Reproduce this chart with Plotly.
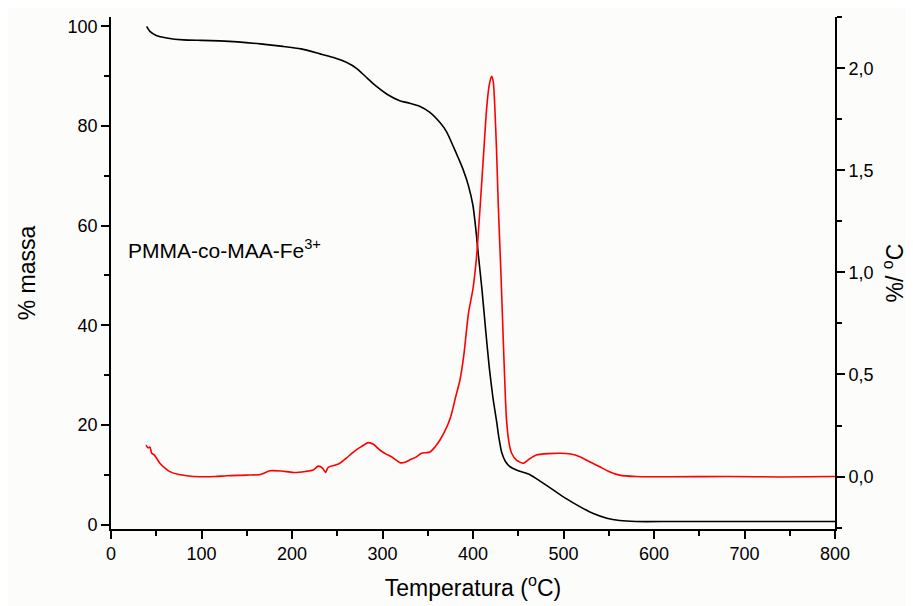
import plotly.graph_objects as go

# TGA curve (% massa) vs temperature
tga_T = [39.4, 43, 50, 61.5, 80, 100, 120, 140, 165, 190, 210, 231, 245, 260, 272, 282, 293, 305, 319, 330, 341, 352, 363.5, 371, 378, 384, 389, 395, 400, 403, 406, 410, 414, 418, 422, 426, 429, 432, 436, 441, 450, 463, 475, 489, 503, 518, 533, 548, 562, 580, 620, 700, 800]
tga_m = [100.0, 99.0, 98.2, 97.7, 97.3, 97.2, 97.1, 96.9, 96.5, 96.0, 95.5, 94.5, 93.8, 92.8, 91.5, 89.8, 88.0, 86.4, 85.1, 84.6, 84.0, 82.8, 80.7, 78.8, 76.0, 73.5, 71.3, 68.0, 64.0, 59.5, 54.0, 47.0, 39.0, 31.5, 25.5, 20.8, 17.0, 14.3, 12.6, 11.6, 10.8, 10.0, 8.6, 6.9, 5.2, 3.6, 2.2, 1.25, 0.8, 0.6, 0.6, 0.6, 0.6]

# DTG curve (%/°C) vs temperature
dtg_T = [38.7, 41, 43, 45, 48, 54, 60, 65, 75, 83.6, 98, 115, 128, 150, 165, 175.7, 188, 201.5, 215, 223.6, 229, 234, 237, 240, 247, 253, 260, 267.8, 276, 284.3, 290, 297, 304, 310, 319.3, 325, 330, 337, 343, 352.5, 358, 363.5, 368, 372.7, 376.5, 380, 385.6, 390, 395, 400, 404, 408, 412, 415, 418, 420.7, 422.5, 424, 426, 428, 431, 434, 437, 440, 442.7, 448, 455.6, 462, 470, 483, 496, 508, 518, 530, 540, 550, 562, 580, 620, 680, 740, 800]
dtg_d = [0.154, 0.14, 0.145, 0.114, 0.105, 0.065, 0.04, 0.024, 0.01, 0.004, -0.001, 0.0, 0.004, 0.007, 0.01, 0.028, 0.027, 0.02, 0.025, 0.032, 0.051, 0.04, 0.02, 0.045, 0.055, 0.065, 0.09, 0.12, 0.145, 0.166, 0.158, 0.13, 0.11, 0.097, 0.068, 0.07, 0.081, 0.095, 0.114, 0.12, 0.145, 0.179, 0.215, 0.26, 0.31, 0.375, 0.473, 0.6, 0.8, 0.92, 1.08, 1.33, 1.6, 1.8, 1.92, 1.96, 1.93, 1.82, 1.6, 1.32, 0.98, 0.6, 0.28, 0.16, 0.114, 0.08, 0.065, 0.085, 0.105, 0.112, 0.114, 0.11, 0.097, 0.07, 0.048, 0.025, 0.007, 0.0, -0.001, 0.0, -0.002, 0.0]

x_title = "Temperatura (<sup>o</sup>C)"
y1_title = "% massa"
y2_title = "%/ <sup>o</sup>C"
label = "PMMA-co-MAA-Fe<sup>3+</sup>"

font_family = "Liberation Sans, Arial, sans-serif"

fig = go.Figure()
fig.add_trace(go.Scatter(x=tga_T, y=tga_m, mode="lines", line=dict(color="black", width=1.6, shape="spline", smoothing=0.6), yaxis="y", showlegend=False))
fig.add_trace(go.Scatter(x=dtg_T, y=dtg_d, mode="lines", line=dict(color="#ff0000", width=1.6, shape="spline", smoothing=0.6), yaxis="y2", showlegend=False))

axis_common = dict(showline=True, linecolor="black", linewidth=1.6, ticks="outside", ticklen=8, tickwidth=1.6, tickcolor="black", showgrid=False, zeroline=False, tickfont=dict(size=18, color="black", family=font_family))
minor_common = dict(ticks="outside", ticklen=5, tickcolor="black", tickwidth=1.6)

fig.update_layout(
    width=905, height=598,
    margin=dict(l=103, r=78, t=9, b=77),
    paper_bgcolor="#fcfcfa", plot_bgcolor="#fcfcfa",
    separators=",.",
    font=dict(family=font_family, color="black"),
    xaxis=dict(range=[0, 800], dtick=100, tick0=0, title=dict(text=x_title, font=dict(size=23), standoff=16),
               minor=dict(dtick=50, **minor_common), **axis_common),
    yaxis=dict(range=[-0.9, 101.9], dtick=20, tick0=0, title=dict(text=y1_title, font=dict(size=23), standoff=26),
               minor=dict(dtick=10, **minor_common), **axis_common),
    yaxis2=dict(range=[-0.257, 2.251], dtick=0.5, tick0=0, tickformat=".1f", overlaying="y", side="right", anchor="x",
                title=dict(text=y2_title, font=dict(size=23), standoff=14),
                minor=dict(dtick=0.25, **minor_common), **axis_common),
    annotations=[dict(x=17, y=55.3, xref="x", yref="y", text=label, showarrow=False, xanchor="left", yanchor="middle",
                      font=dict(size=21, color="black", family=font_family))],
)

fig.write_html("out.html")
